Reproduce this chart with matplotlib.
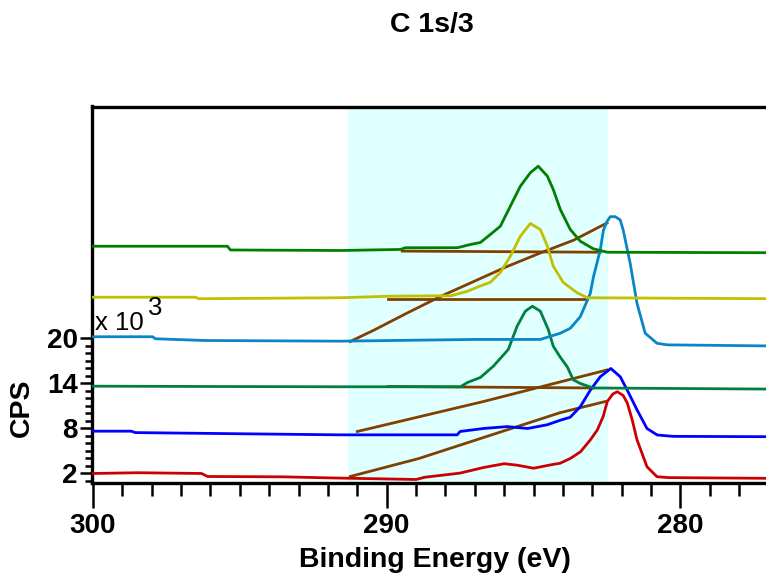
import matplotlib
matplotlib.use("Agg")
import matplotlib.pyplot as plt
from matplotlib.ticker import FixedLocator

plt.rcParams['font.family'] = ['Liberation Sans', 'DejaVu Sans']
plt.rcParams['font.weight'] = 'bold'

# C 1s spectra, stacked (binding energy in eV, counts in thousands)
red_ev = [299.98, 298.5, 296.3, 296.1, 293.5, 291.8, 289.0, 288.7, 287.5, 286.7, 286.0,
          285.55, 285.0, 284.35, 284.1, 283.75, 283.4, 283.07, 282.83, 282.63, 282.49,
          282.3, 282.15, 281.95, 281.81, 281.64, 281.48, 281.14, 280.8, 280.4, 276.85]
red_cps = [2.0, 2.1, 2.0, 1.6, 1.55, 1.4, 1.2, 1.5, 2.05, 2.8, 3.3,
           3.1, 2.7, 3.2, 3.36, 4.0, 4.9, 6.47, 7.8, 9.6, 11.6,
           12.6, 12.9, 12.4, 11.4, 9.1, 6.5, 2.9, 1.57, 1.45, 1.35]
red_bg_ev = [291.24, 288.9, 286.7, 284.1, 282.55]
red_bg_cps = [1.6, 4.0, 6.8, 10.1, 11.6]

blue_ev = [299.98, 298.7, 298.55, 291.6, 287.6, 287.5, 286.7, 285.9, 285.2, 284.53, 284.09,
           283.75, 283.41, 283.07, 282.73, 282.37, 282.05, 281.81, 281.48, 281.14, 280.79,
           280.25, 276.85]
blue_cps = [7.64, 7.64, 7.45, 7.15, 7.15, 7.6, 8.0, 8.25, 8.0, 8.5, 9.1,
            9.5, 10.9, 13.1, 14.9, 16.0, 14.9, 13.1, 10.5, 8.0, 7.13,
            6.95, 6.9]
blue_bg_ev = [291.0, 286.7, 282.5]
blue_bg_cps = [7.6, 11.6, 15.8]

green2_ev = [299.98, 296.34, 291.58, 287.49, 287.25, 286.81, 286.37, 285.86, 285.56, 285.28,
             285.04, 284.77, 284.5, 284.33, 284.09, 283.85, 283.65, 283.41, 282.97, 276.85]
green2_cps = [13.64, 13.6, 13.56, 13.56, 14.13, 14.8, 16.3, 18.53, 21.64, 23.64,
              24.3, 23.64, 21.2, 18.97, 17.5, 16.2, 14.5, 14.0, 13.4, 13.25]
green2_bg_ev = [289.94, 282.97]
green2_bg_cps = [13.6, 13.4]

lblue_ev = [299.98, 297.97, 297.87, 296.17, 291.58, 287.05, 284.77, 284.09, 283.75, 283.41,
            283.07, 282.96, 282.73, 282.62, 282.5, 282.39, 282.22, 282.05, 281.95, 281.71,
            281.48, 281.2, 280.8, 280.45, 276.85]
lblue_cps = [20.23, 20.23, 19.96, 19.73, 19.64, 19.87, 19.87, 20.7, 21.36, 22.9,
             26.0, 28.24, 31.8, 34.47, 35.6, 36.24, 36.24, 35.8, 34.47, 30.0,
             24.7, 20.7, 19.36, 19.15, 19.0]
lblue_bg_ev = [291.24, 290.44, 289.3, 288.17, 285.9, 284.77, 283.64, 282.5]
lblue_bg_cps = [19.6, 21.1, 23.4, 25.6, 29.6, 31.4, 33.1, 35.4]

yellow_ev = [299.98, 296.51, 296.4, 291.58, 289.87, 287.8, 287.25, 286.81, 286.47, 286.13,
             285.79, 285.45, 285.11, 284.77, 284.53, 284.33, 283.99, 283.52, 283.17, 276.85]
yellow_cps = [25.5, 25.5, 25.3, 25.43, 25.64, 25.7, 26.3, 27.0, 27.5, 28.8,
              30.97, 33.64, 35.33, 34.53, 32.3, 29.64, 27.47, 26.1, 25.43, 25.3]
yellow_bg_ev = [289.94, 283.17]
yellow_bg_cps = [25.33, 25.33]

green_ev = [299.98, 295.42, 295.32, 291.58, 289.53, 289.36, 287.59, 287.15, 286.81, 286.47,
            286.13, 285.79, 285.45, 285.11, 284.84, 284.53, 284.33, 284.09, 283.75, 283.41,
            282.97, 282.49, 276.85]
green_cps = [32.3, 32.3, 31.8, 31.73, 31.87, 32.1, 32.1, 32.53, 32.8, 33.87,
             34.97, 37.64, 40.3, 42.1, 42.97, 41.64, 39.87, 37.2, 34.53, 32.97,
             31.96, 31.5, 31.43]
green_bg_ev = [289.47, 282.73]
green_bg_cps = [31.65, 31.5]

region = (291.3, 282.46)
x_major = [300, 290, 280]
y_major = [2, 8, 14, 20]

fig = plt.figure(figsize=(7.66, 5.73), dpi=100)
ax = fig.add_axes([92.3 / 766, 1 - 483 / 573, (773 - 92.3) / 766, (483 - 106.5) / 573])

ax.axvspan(region[0], region[1], color='#e0ffff', zorder=0, lw=0)

brown = '#804000'
lw = 2.0
for ev, cps in [(red_bg_ev, red_bg_cps), (blue_bg_ev, blue_bg_cps),
                (green2_bg_ev, green2_bg_cps), (lblue_bg_ev, lblue_bg_cps),
                (yellow_bg_ev, yellow_bg_cps), (green_bg_ev, green_bg_cps)]:
    ax.plot(ev, cps, color=brown, lw=lw, zorder=2)

ax.plot(red_ev, red_cps, color='#cc0000', lw=lw, zorder=3)
ax.plot(blue_ev, blue_cps, color='#0000ff', lw=lw, zorder=3)
ax.plot(green2_ev, green2_cps, color='#008040', lw=lw, zorder=3)
ax.plot(lblue_ev, lblue_cps, color='#0a85c8', lw=lw, zorder=3)
ax.plot(yellow_ev, yellow_cps, color='#c0c000', lw=lw, zorder=3)
ax.plot(green_ev, green_cps, color='#008000', lw=lw, zorder=3)

ax.set_xlim(300.02, 276.85)
ax.set_ylim(0.73, 50.93)

ax.xaxis.set_major_locator(FixedLocator(x_major))
ax.xaxis.set_minor_locator(FixedLocator([v for v in range(277, 300) if v not in x_major]))
ax.yaxis.set_major_locator(FixedLocator(y_major))
ax.yaxis.set_minor_locator(FixedLocator([v for v in range(1, 21) if v not in y_major]))

ax.tick_params(axis='x', which='major', length=18, width=1.8, pad=3.5, labelsize=20)
ax.tick_params(axis='x', which='minor', length=9.5, width=1.8)
ax.tick_params(axis='y', which='major', length=8.4, width=1.8, pad=2.2, labelsize=20)
ax.tick_params(axis='y', which='minor', length=4.8, width=1.8)

for side in ['left', 'top', 'bottom']:
    ax.spines[side].set_linewidth(2.4)
ax.spines['right'].set_visible(False)

fig.text(432 / 766, 1 - 25 / 573, 'C 1s/3', ha='center', va='center', fontsize=20.5)
fig.text(435 / 766, 1 - 566.7 / 573, 'Binding Energy (eV)', ha='center', va='baseline', fontsize=20.5)
fig.text(21.7 / 766, 1 - 407.5 / 573, 'CPS', rotation=90, ha='center', va='center', fontsize=20.5)
fig.text(95 / 766, 1 - 330 / 573, 'x 10', ha='left', va='baseline', fontsize=18.5, fontweight='normal')
fig.text(148 / 766, 1 - 315 / 573, '3', ha='left', va='baseline', fontsize=18.5, fontweight='normal')

fig.savefig('out.png', dpi=100)
